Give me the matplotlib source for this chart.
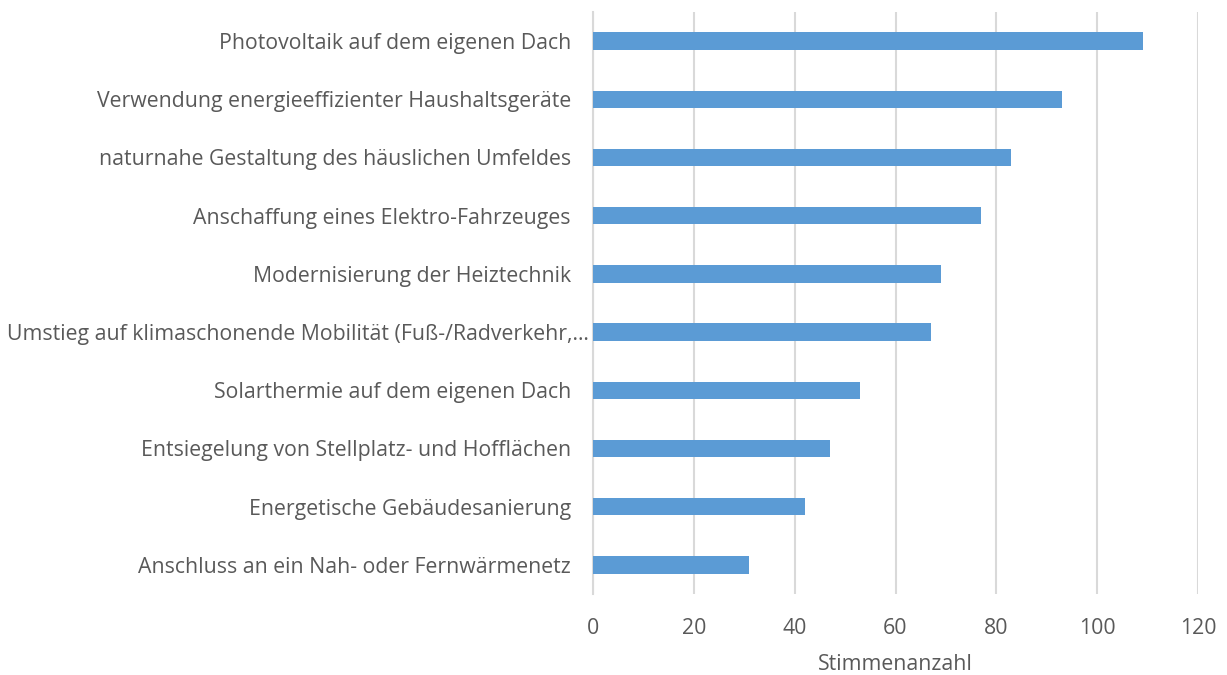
import matplotlib
matplotlib.use("Agg")
import matplotlib.pyplot as plt
import matplotlib.transforms as mtransforms

categories = [
    "Photovoltaik auf dem eigenen Dach",
    "Verwendung energieeffizienter Haushaltsgeräte",
    "naturnahe Gestaltung des häuslichen Umfeldes",
    "Anschaffung eines Elektro-Fahrzeuges",
    "Modernisierung der Heiztechnik",
    "Umstieg auf klimaschonende Mobilität (Fuß-/Radverkehr,…",
    "Solarthermie auf dem eigenen Dach",
    "Entsiegelung von Stellplatz- und Hofflächen",
    "Energetische Gebäudesanierung",
    "Anschluss an ein Nah- oder Fernwärmenetz",
]
values = [109, 93, 83, 77, 69, 67, 53, 47, 42, 31]
xticks = [0, 20, 40, 60, 80, 100, 120]
xlabel = "Stimmenanzahl"

plt.rcParams['font.family'] = ['Open Sans', 'DejaVu Sans']
txt = "#595959"
grid = "#d9d9d9"
fs = 15.3

fig = plt.figure(figsize=(12.27, 6.75), dpi=100)
ax = fig.add_axes([593/1227, 1-594/675, (1198-593)/1227, (594-12)/675])

y = list(range(len(categories)))
ax.barh(y, values, height=0.30, color="#5b9bd5", zorder=3)
ax.set_ylim(len(categories)-0.5, -0.5)
ax.set_xlim(0, 120)
ax.set_xticks(xticks)
ax.set_yticks(y)
ax.set_yticklabels(categories)
ax.xaxis.grid(True, color=grid, linewidth=1.5, zorder=0)
ax.set_axisbelow(True)
for s in ["top", "right", "bottom"]:
    ax.spines[s].set_visible(False)
ax.spines["left"].set_color(grid)
ax.spines["left"].set_linewidth(1.5)
ax.tick_params(axis="y", length=0, pad=16, labelsize=fs, labelcolor=txt)
ax.tick_params(axis="x", length=0, pad=17, labelsize=fs, labelcolor=txt)
ax.set_xlabel(xlabel, fontsize=fs, color=txt, labelpad=11)

# the truncated long label sits closer to the axis, as in the reference
lbl = ax.get_yticklabels()[5]
lbl.set_transform(lbl.get_transform() + mtransforms.ScaledTranslation(13/72, 0, fig.dpi_scale_trans))

fig.savefig("out.png", dpi=100)
